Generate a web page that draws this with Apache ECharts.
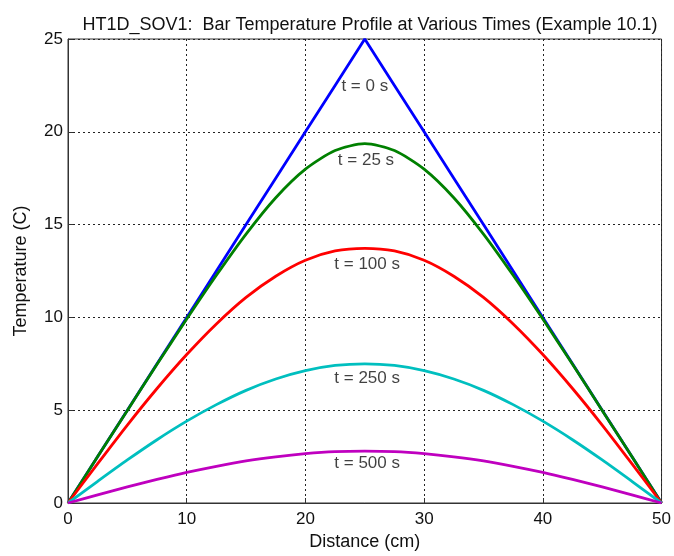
<!DOCTYPE html>
<html><head><meta charset="utf-8">
<script src="https://cdn.jsdelivr.net/npm/echarts@6/dist/echarts.min.js"></script>
<style>html,body{margin:0;padding:0;background:#fff}#c{width:674px;height:556px}</style>
</head><body><div id="c"></div>
<script>
const distance = [0,2.5,5,7.5,10,12.5,15,17.5,20,22.5,25,27.5,30,32.5,35,37.5,40,42.5,45,47.5,50];
const t0   = [0,2.5,5,7.5,10,12.5,15,17.5,20,22.5,25,22.5,20,17.5,15,12.5,10,7.5,5,2.5,0];
const t25  = [0,2.5,4.99,7.47,9.91,12.27,14.49,16.45,17.99,18.99,19.36,18.99,17.99,16.45,14.49,12.27,9.91,7.47,4.99,2.5,0];
const t100 = [0,2.12,4.2,6.17,8.0,9.65,11.08,12.22,13.08,13.58,13.72,13.58,13.08,12.22,11.08,9.65,8.0,6.17,4.2,2.12,0];
const t250 = [0,1.17,2.32,3.41,4.41,5.3,6.07,6.68,7.13,7.41,7.5,7.41,7.13,6.68,6.07,5.3,4.41,3.41,2.32,1.17,0];
const t500 = [0,0.44,0.87,1.27,1.65,1.98,2.27,2.49,2.66,2.77,2.8,2.77,2.66,2.49,2.27,1.98,1.65,1.27,0.87,0.44,0];
const seriesNames = ['t = 0 s','t = 25 s','t = 100 s','t = 250 s','t = 500 s'];
const seriesColors = ['#0000ff','#008000','#ff0000','#00bfbf','#bf00bf'];
const labelX = [25,25.1,25.2,25.2,25.2];
const labelY = [22.46,18.46,12.86,6.73,2.13];
const xTicks = [0,10,20,30,40,50];
const yTicks = [0,5,10,15,20,25];

const FONT = '"Liberation Sans", Arial, sans-serif';
const allData = [t0,t25,t100,t250,t500];
const lineSeries = allData.map((vals,i)=>({
  type:'line', name:seriesNames[i], showSymbol:false, smooth: i===0?false:0.25,
  lineStyle:{color:seriesColors[i], width:2.8}, itemStyle:{color:seriesColors[i]},
  data: distance.map((x,j)=>[x,vals[j]]), z:3
}));
const labelSeries = {
  type:'scatter', symbolSize:0, z:5,
  data: seriesNames.map((n,i)=>({value:[labelX[i],labelY[i]], name:n})),
  label:{show:true, position:'inside', formatter:p=>p.name, color:'#111', fontSize:17, fontFamily:FONT}
};
const chart = echarts.init(document.getElementById('c'));
const axisCommon = {
  axisLine:{show:true, onZero:false, lineStyle:{color:'#333', width:1}},
  axisTick:{show:true, inside:true, length:5, lineStyle:{color:'#333'}},
  splitLine:{show:true, lineStyle:{color:'#222', type:[2,3], width:1}}
};
chart.setOption({
  animation:false,
  backgroundColor:'#fff',
  title:{text:'HT1D_SOV1:  Bar Temperature Profile at Various Times (Example 10.1)', left:365, top:11, textAlign:'center',
    textStyle:{fontSize:18, fontWeight:'normal', color:'#111', fontFamily:FONT}},
  grid:{left:68, right:10, top:39, bottom:48, show:true, borderColor:'#333', borderWidth:1, backgroundColor:'#fff'},
  xAxis:Object.assign({type:'value', min:0, max:50, interval:10, name:'Distance (cm)', nameLocation:'middle', nameGap:30,
    nameTextStyle:{fontSize:18, color:'#111', fontFamily:FONT}}, axisCommon,
    {axisLabel:{color:'#111', fontSize:17, fontFamily:FONT, margin:8}}),
  yAxis:Object.assign({type:'value', min:0, max:25, interval:5, name:'Temperature (C)', nameLocation:'middle', nameGap:38,
    nameTextStyle:{fontSize:18, color:'#111', fontFamily:FONT}}, axisCommon,
    {axisLabel:{color:'#111', fontSize:17, fontFamily:FONT, margin:5}}),
  series:[...lineSeries, labelSeries]
});
</script></body></html>
